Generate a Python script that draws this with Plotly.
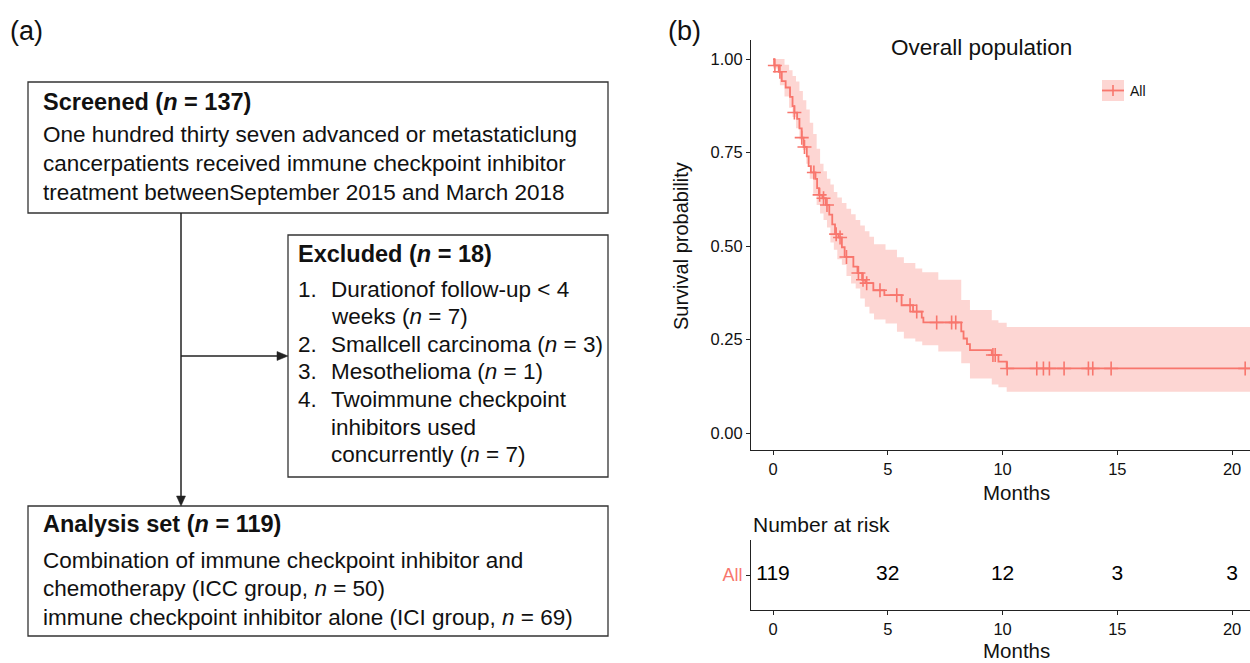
import plotly.graph_objects as go

W, H = 1250, 663
RED = "#F8766D"
BAND = "rgba(248,118,109,0.3)"
FONT = "Liberation Sans, Arial, sans-serif"

# ---------------- Kaplan-Meier data ----------------
km_time = [0, 0.05, 0.25, 0.38, 0.55, 0.74, 0.85, 0.93, 1.05, 1.15, 1.25, 1.33,
           1.47, 1.55, 1.65, 1.85, 1.92, 2.00, 2.15, 2.30, 2.45, 2.58, 2.70, 2.85,
           3.00, 3.12, 3.50, 3.68, 3.88, 4.02, 4.37, 4.85, 5.60, 6.10, 6.48, 6.55,
           8.20, 8.30, 8.45, 8.58, 9.53, 9.82, 10.18, 20.80]
km_surv = [1.0, 0.983, 0.966, 0.941, 0.924, 0.899, 0.874, 0.857, 0.840, 0.815, 0.790, 0.765,
           0.740, 0.714, 0.697, 0.680, 0.655, 0.637, 0.628, 0.610, 0.584, 0.558, 0.532, 0.523,
           0.497, 0.471, 0.445, 0.428, 0.410, 0.401, 0.382, 0.369, 0.342, 0.325, 0.309, 0.296,
           0.272, 0.253, 0.238, 0.222, 0.209, 0.191, 0.173, 0.173]

ci_time = [0, 0.3, 0.5, 0.7, 0.85, 1.0, 1.15, 1.3, 1.45, 1.6, 1.75, 1.9, 2.05, 2.2,
           2.35, 2.5, 2.65, 2.8, 3.0, 3.2, 3.4, 3.6, 3.8, 4.0, 4.2, 4.4, 4.9, 5.4,
           5.7, 6.2, 6.5, 7.2, 8.2, 8.58, 9.53, 9.82, 10.18, 20.80]
ci_upper = [1.0, 1.0, 0.985, 0.97, 0.955, 0.94, 0.915, 0.89, 0.865, 0.83, 0.80, 0.76, 0.72, 0.70,
            0.68, 0.665, 0.645, 0.63, 0.615, 0.60, 0.585, 0.57, 0.555, 0.54, 0.525, 0.505, 0.49, 0.47,
            0.455, 0.44, 0.43, 0.41, 0.356, 0.329, 0.302, 0.295, 0.284, 0.284]
ci_lower = [0.975, 0.93, 0.90, 0.87, 0.845, 0.815, 0.785, 0.757, 0.72, 0.68, 0.64, 0.61, 0.587, 0.57,
            0.55, 0.51, 0.49, 0.465, 0.45, 0.42, 0.40, 0.387, 0.36, 0.338, 0.32, 0.304, 0.293, 0.271,
            0.253, 0.245, 0.235, 0.218, 0.187, 0.146, 0.13, 0.123, 0.111, 0.111]

cens_time = [0.08, 0.30, 0.93, 1.25, 1.37, 1.78, 2.03, 2.20, 2.35, 2.75, 2.92, 3.20, 3.72,
             3.92, 4.08, 4.66, 5.39, 5.97, 6.26, 7.13, 7.78, 7.96, 9.58, 9.68, 10.20,
             11.49, 11.78, 12.04, 12.68, 13.74, 13.93, 14.73, 20.57]
cens_surv = [0.983, 0.966, 0.857, 0.790, 0.765, 0.697, 0.637, 0.628, 0.610, 0.532, 0.523, 0.471, 0.428,
             0.410, 0.401, 0.382, 0.369, 0.342, 0.325, 0.296, 0.296, 0.296, 0.209, 0.209, 0.173,
             0.173, 0.173, 0.173, 0.173, 0.173, 0.173, 0.173, 0.173]

risk_times = [0, 5, 10, 15, 20]
risk_counts = [119, 32, 12, 3, 3]
x_ticks = [0, 5, 10, 15, 20]
y_ticks = [0, 0.25, 0.5, 0.75, 1.0]

# ---------------- flowchart text ----------------
screened_title = "<b>Screened (<i>n</i> = 137)</b>"
screened_lines = ["One hundred thirty seven advanced or metastaticlung",
                  "cancerpatients received immune checkpoint inhibitor",
                  "treatment betweenSeptember 2015 and March 2018"]
excluded_title = "<b>Excluded (<i>n</i> = 18)</b>"
excluded_nums = ["1.", "", "2.", "3.", "4.", "", ""]
excluded_lines = ["Durationof follow-up < 4", "weeks (<i>n</i> = 7)",
                  "Smallcell carcinoma (<i>n</i> = 3)", "Mesothelioma (<i>n</i> = 1)",
                  "Twoimmune checkpoint", "inhibitors used", "concurrently (<i>n</i> = 7)"]
analysis_title = "<b>Analysis set (<i>n</i> = 119)</b>"
analysis_lines = ["Combination of immune checkpoint inhibitor and",
                  "chemotherapy (ICC group, <i>n</i> = 50)",
                  "immune checkpoint inhibitor alone (ICI group, <i>n</i> = 69)"]


def px(x):
    return x / W


def py(y):
    return 1 - y / H


fig = go.Figure()

# band
fig.add_trace(go.Scatter(x=ci_time, y=ci_upper, mode="lines", line=dict(width=0, shape="hv"),
                         hoverinfo="skip", showlegend=False, xaxis="x", yaxis="y"))
fig.add_trace(go.Scatter(x=ci_time, y=ci_lower, mode="lines", line=dict(width=0, shape="hv"),
                         fill="tonexty", fillcolor=BAND, hoverinfo="skip", showlegend=False,
                         xaxis="x", yaxis="y"))
# curve
fig.add_trace(go.Scatter(x=km_time, y=km_surv, mode="lines", line=dict(color=RED, width=1.8, shape="hv"),
                         showlegend=False, xaxis="x", yaxis="y"))
# censor marks
fig.add_trace(go.Scatter(x=cens_time, y=cens_surv, mode="markers",
                         marker=dict(symbol="cross-thin", size=10, line=dict(color=RED, width=1.6)),
                         showlegend=False, xaxis="x", yaxis="y"))
# risk table numbers
fig.add_trace(go.Scatter(x=risk_times, y=[0] * len(risk_times), mode="text",
                         text=[str(c) for c in risk_counts],
                         textfont=dict(family=FONT, size=21, color="black"),
                         showlegend=False, xaxis="x2", yaxis="y2"))

xr = [-0.96, 20.78]
axis_common = dict(showline=True, linecolor="#222", linewidth=1, ticks="outside", ticklen=4,
                   tickcolor="#222", showgrid=False, zeroline=False,
                   tickfont=dict(family=FONT, size=16.5, color="#111"))
fig.update_layout(
    width=W, height=H, margin=dict(l=0, r=0, t=0, b=0),
    paper_bgcolor="white", plot_bgcolor="white", showlegend=False,
    xaxis=dict(domain=[px(751), 1], range=xr, tickvals=x_ticks, anchor="y", **axis_common),
    yaxis=dict(domain=[py(450), py(40)], range=[-0.045, 1.051], tickvals=y_ticks,
               tickformat=".2f", anchor="x", **axis_common),
    xaxis2=dict(domain=[px(751), 1], range=xr, tickvals=x_ticks, anchor="y2", **axis_common),
    yaxis2=dict(domain=[py(610), py(540)], range=[-1, 1], tickvals=[0], ticktext=["All"],
                anchor="x2", showline=True, linecolor="#222", linewidth=1, ticks="outside",
                ticklen=4, tickcolor="#222", showgrid=False, zeroline=False,
                tickfont=dict(family=FONT, size=18, color=RED)),
)

ann = []


def text(x, y, s, size, xanchor="left", color="#111", angle=0):
    ann.append(dict(x=px(x), y=py(y), xref="paper", yref="paper", text=s, showarrow=False,
                    xanchor=xanchor, yanchor="middle", textangle=angle,
                    font=dict(family=FONT, size=size, color=color)))


# panel labels
text(8, 31, "(a)", 27)
text(666, 31, "(b)", 27)

# KM texts
text(981, 48, "Overall population", 22.5, "center")
text(681, 246, "Survival probability", 20, "center", angle=-90)
text(1016, 492, "Months", 20.5, "center")
text(751, 524, "Number at risk", 21)
text(1016, 650, "Months", 20.5, "center")
text(1128, 91, "All", 14)

# flowchart texts
text(41, 102, screened_title, 23.5)
for i, s in enumerate(screened_lines):
    text(41, 135 + i * 28.5, s, 22.5)
text(296, 254, excluded_title, 23.5)
for i, (n, s) in enumerate(zip(excluded_nums, excluded_lines)):
    yy = 289 + i * 27.6
    if n:
        text(296, yy, n, 22.5)
    text(329, yy, s, 22.5)
text(41, 524, analysis_title, 23.5)
for i, s in enumerate(analysis_lines):
    text(41, 560 + i * 28.5, s, 22.5)

fig.update_layout(annotations=ann)

shapes = []
BOX = dict(color="#333", width=1.3)


def rect(x0, y0, x1, y1):
    shapes.append(dict(type="rect", xref="paper", yref="paper", x0=px(x0), x1=px(x1),
                       y0=py(y1), y1=py(y0), line=BOX, fillcolor="rgba(0,0,0,0)"))


def line(x0, y0, x1, y1, color="#222", width=1.5):
    shapes.append(dict(type="line", xref="paper", yref="paper", x0=px(x0), x1=px(x1),
                       y0=py(y0), y1=py(y1), line=dict(color=color, width=width)))


def tri(pts, color="#222"):
    path = "M " + " L ".join(f"{px(a)},{py(b)}" for a, b in pts) + " Z"
    shapes.append(dict(type="path", xref="paper", yref="paper", path=path,
                       fillcolor=color, line=dict(color=color, width=0.5)))


rect(28, 82, 608, 213)
rect(288, 235, 608, 477)
rect(28, 506, 608, 636)
line(181, 213, 181, 497)
tri([(176.5, 496), (185.5, 496), (181, 506)])
line(181, 356, 278, 356)
tri([(277, 351.5), (277, 360.5), (288, 356)])

# legend key
shapes.append(dict(type="rect", xref="paper", yref="paper", x0=px(1102), x1=px(1124),
                   y0=py(101), y1=py(80), line=dict(width=0), fillcolor=BAND))
line(1102, 90.5, 1124, 90.5, RED, 1.8)
line(1113, 85, 1113, 96, RED, 1.6)

fig.update_layout(shapes=shapes)

fig.write_html("out.html")
